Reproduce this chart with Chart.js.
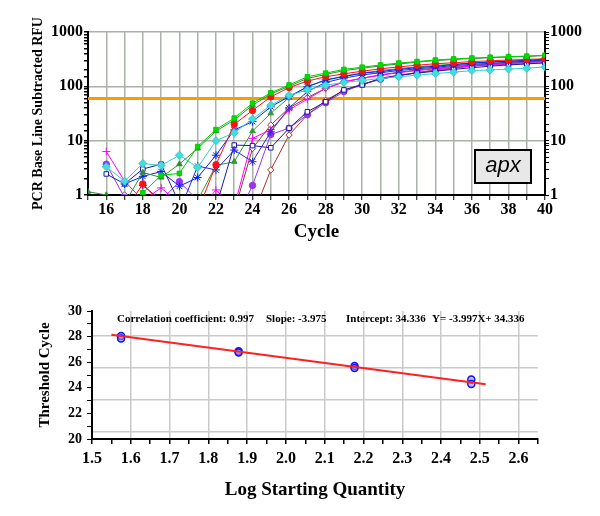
<!DOCTYPE html>
<html>
<head>
<meta charset="utf-8">
<script src="https://cdn.jsdelivr.net/npm/chart.js@4.4.1/dist/chart.umd.min.js"></script>
<style>
  html, body { margin: 0; padding: 0; background: #fff; }
  #topWrap { position: absolute; left: 0; top: 0; width: 600px; height: 250px; }
  #botWrap { position: absolute; left: 0; top: 270px; width: 600px; height: 246px; }
</style>
</head>
<body>
<div id="topWrap"><canvas id="pcr"></canvas></div>
<div id="botWrap"><canvas id="std"></canvas></div>
<script>
// ---- amplification plot data (RFU per cycle) ----
const cycles = [15,16,17,18,19,20,21,22,23,24,25,26,27,28,29,30,31,32,33,34,35,36,37,38,39,40]
const greenSq   = [null,null,0.6,1.1,2.3,2.5,7.8,16,26,49,76,106,150,175,205,225,247,268,286,305,320,332,342,352,360,375]
const greenTri  = [1.15,1.0,0.7,2.6,2.1,3.7,7.2,15,24,45,72,100,140,165,195,215,238,258,278,298,312,325,336,346,355,368]
const redDot    = [null,null,0.5,1.6,0.7,0.4,0.5,3.6,20,36,64,95,125,150,170,190,210,228,245,260,272,285,295,305,312,322]
const cyanDia   = [null,3.3,1.8,3.8,3.5,5.4,3.2,10,14,25,45,68,86,105,118,128,140,150,160,172,182,195,200,208,215,228]
const blueStar  = [null,null,1.6,2.2,2.7,1.45,2.1,5.4,15.7,22.4,42,65,98,131,151,175,187,205,220,235,250,268,280,290,300,318]
const blueStar2 = [null,null,null,1.5,0.8,0.5,3.4,2.9,6.7,4.1,14.6,40,80,118,142,162,178,195,210,225,240,255,265,278,290,305]
const navySq    = [null,2.44,1.6,3.0,3.7,0.7,0.4,0.6,8.3,8.1,7.4,17,34,52,86,106,141,160,175,190,205,220,235,248,258,272]
const magPlus   = [null,6.3,1.8,0.8,1.35,0.7,0.5,1.24,0.6,11,16,37,58,92,122,141,160,178,195,210,222,235,245,255,262,270]
const purpleDot = [null,3.7,0.9,0.6,0.8,1.76,0.8,0.3,0.3,1.5,13,17,30,50,80,108,135,158,178,195,212,240,255,265,275,285]
const brownDia  = [null,null,1.0,0.6,0.4,0.3,0.3,0.3,0.5,7.2,19.4,40,62,92,120,141,162,182,200,215,230,245,255,265,275,290]
const brownDia2 = [null,null,null,null,null,null,null,null,0.3,0.4,2.9,12.7,30,55,85,110,135,158,180,200,218,238,250,264,278,298]
const greenTri2 = [null,null,null,null,null,null,0.8,3.5,4.1,15,32,62,100,130,155,175,195,212,228,242,256,268,280,290,300,312]
const threshold = 60
const rfuTicks = [1, 10, 100, 1000]

// ---- standard curve data ----
const logQty    = [1.575, 1.575, 1.878, 1.878, 2.177, 2.177, 2.478, 2.478]
const ctValues  = [28.05, 27.85, 26.85, 26.75, 25.7, 25.55, 24.65, 24.3]
const fitX      = [1.55, 2.515]
const fitY      = [28.14, 24.28]
const qtyTicks  = [1.5,1.55,1.6,1.65,1.7,1.75,1.8,1.85,1.9,1.95,2.0,2.05,2.1,2.15,2.2,2.25,2.3,2.35,2.4,2.45,2.5,2.55,2.6,2.65]
const ctGrid    = [20.55, 23.05, 25.55, 28.05]
const fitText   = ['Correlation coefficient: 0.997', 'Slope: -3.975', 'Intercept: 34.336', 'Y= -3.997X+ 34.336']

Chart.defaults.font.family = 'Liberation Serif'
Chart.defaults.font.weight = 'bold'
Chart.defaults.color = '#000'

function series(label, vals, color, style, fill, radius) {
    return {
        label: label,
        data: cycles.map((c, i) => ({x: c, y: vals[i]})),
        borderColor: color,
        backgroundColor: fill || color,
        pointBorderColor: color,
        pointStyle: style,
        pointRadius: radius || 3.2,
        pointBorderWidth: 1,
        borderWidth: 1,
        tension: 0
    }
}

const pcrDatasets = [
    series('s1', greenSq, '#00cc00', 'rect', '#00dd00'),
    series('s2', greenTri, '#2f8f2f', 'triangle'),
    series('s3', redDot, '#ff1010', 'circle'),
    series('s4', cyanDia, '#33cccc', 'rectRot', '#44dddd', 4),
    series('s5', blueStar, '#0022ff', 'star', null, 4),
    series('s6', blueStar2, '#2a2acc', 'star', null, 4),
    series('s7', navySq, '#1a1a99', 'rect', '#ffffff'),
    series('s8', magPlus, '#ff00ff', 'cross', null, 4),
    series('s9', purpleDot, '#9933ee', 'circle'),
    series('s10', brownDia, '#993333', 'rectRot', '#ffffff'),
    series('s11', brownDia2, '#aa3322', 'rectRot', '#ffffff'),
    series('s12', greenTri2, '#339933', 'triangle'),
    {
        label: 'threshold',
        data: [{x: cycles[0], y: threshold}, {x: cycles[cycles.length - 1], y: threshold}],
        borderColor: '#ff9900',
        borderWidth: 3,
        pointRadius: 0
    }
]

const apxBox = {
    id: 'apxBox',
    afterDraw(chart) {
        const ctx = chart.ctx
        ctx.save()
        ctx.fillStyle = '#e8e8e8'
        ctx.fillRect(475, 150, 56, 33)
        ctx.strokeStyle = '#000'
        ctx.lineWidth = 2
        ctx.strokeRect(475, 150, 56, 33)
        ctx.fillStyle = '#000'
        ctx.font = 'italic 22px "Liberation Sans"'
        ctx.textAlign = 'center'
        ctx.textBaseline = 'middle'
        ctx.fillText('apx', 503, 166)
        ctx.restore()
    }
}

const decadeGrid = c => (c.tick && rfuTicks.includes(c.tick.value)) ? '#aab2aa' : 'rgba(0,0,0,0)'

new Chart(document.getElementById('pcr'), {
    type: 'line',
    data: { datasets: pcrDatasets },
    plugins: [apxBox],
    options: {
        responsive: true,
        maintainAspectRatio: false,
        animation: false,
        layout: { padding: { top: 32, left: 0, right: 0, bottom: 0 } },
        plugins: { legend: { display: false }, tooltip: { enabled: false } },
        scales: {
            x: {
                type: 'linear',
                min: 15, max: 40,
                afterFit: s => { s.height = 55 },
                ticks: {
                    stepSize: 1, autoSkip: false, maxRotation: 0, padding: 0,
                    font: { size: 16 },
                    callback: v => (v % 2 === 0 ? String(v) : '')
                },
                grid: { color: '#aab2aa', lineWidth: 1.5, tickColor: '#000', tickLength: 5, tickWidth: 1 },
                border: { color: '#000', width: 2 },
                title: { display: true, text: 'Cycle', font: { size: 19 }, padding: { top: 0, bottom: 7 } }
            },
            y: {
                type: 'logarithmic',
                min: 1, max: 1000,
                afterFit: s => { s.width = 88 },
                ticks: {
                    autoSkip: false, padding: 1, font: { size: 16 },
                    callback: v => (rfuTicks.includes(v) ? String(v) : '')
                },
                grid: { color: decadeGrid, lineWidth: 1.5, tickColor: '#000', tickLength: 4 },
                border: { color: '#000', width: 2 },
                title: { display: true, text: 'PCR Base Line Subtracted RFU', font: { size: 14 }, padding: { top: 30, bottom: 0 } }
            },
            y2: {
                type: 'logarithmic',
                position: 'right',
                min: 1, max: 1000,
                afterFit: s => { s.width = 55 },
                ticks: {
                    autoSkip: false, padding: 1, font: { size: 16 },
                    callback: v => (rfuTicks.includes(v) ? String(v) : '')
                },
                grid: { drawOnChartArea: false, tickColor: '#000', tickLength: 4 },
                border: { color: '#000', width: 2 }
            }
        }
    }
})

// ---- standard curve ----
const fitLabel = {
    id: 'fitLabel',
    afterDatasetsDraw(chart) {
        const ctx = chart.ctx
        const xs = [117, 266, 346, 432]
        ctx.save()
        ctx.fillStyle = '#000'
        ctx.font = 'bold 11px "Liberation Serif"'
        ctx.textBaseline = 'middle'
        fitText.forEach((t, i) => ctx.fillText(t, xs[i], 49))
        ctx.restore()
    }
}

new Chart(document.getElementById('std'), {
    type: 'scatter',
    data: {
        datasets: [
            {
                label: 'fit',
                type: 'line',
                data: fitX.map((x, i) => ({x: x, y: fitY[i]})),
                borderColor: '#ff2020',
                borderWidth: 2,
                pointRadius: 0
            },
            {
                label: 'standards',
                data: logQty.map((x, i) => ({x: x, y: ctValues[i]})),
                borderColor: '#1010ff',
                backgroundColor: 'rgba(140,140,255,0.6)',
                pointRadius: 3.5,
                pointBorderWidth: 1.5
            }
        ]
    },
    plugins: [fitLabel],
    options: {
        responsive: true,
        maintainAspectRatio: false,
        animation: false,
        layout: { padding: { top: 41, left: 0, right: 62, bottom: 0 } },
        plugins: { legend: { display: false }, tooltip: { enabled: false } },
        scales: {
            x: {
                type: 'linear',
                min: 1.5, max: 2.65,
                afterBuildTicks: s => { s.ticks = qtyTicks.map(v => ({value: v})) },
                afterFit: s => { s.height = 77 },
                ticks: {
                    autoSkip: false, maxRotation: 0, padding: 5, font: { size: 16 },
                    callback: v => (Math.abs(v * 10 - Math.round(v * 10)) < 1e-6 ? v.toFixed(1) : '')
                },
                grid: {
                    color: c => (c.tick && c.tick.value > 1.51 && Math.abs(c.tick.value * 10 - Math.round(c.tick.value * 10)) < 1e-6) ? '#cacaca' : 'rgba(0,0,0,0)',
                    lineWidth: 1.5, tickColor: '#000', tickLength: 5
                },
                border: { color: '#000', width: 2 },
                title: { display: true, text: 'Log Starting Quantity', font: { size: 19 }, padding: { top: 0, bottom: 15 } }
            },
            y: {
                min: 20, max: 30,
                afterFit: s => { s.width = 92 },
                ticks: {
                    stepSize: 1, autoSkip: false, padding: 5, font: { size: 14 },
                    callback: v => (v % 2 === 0 ? String(v) : '')
                },
                grid: { drawOnChartArea: false, tickColor: '#000', tickLength: 5 },
                border: { color: '#000', width: 2 },
                title: { display: true, text: 'Threshold Cycle', font: { size: 15 }, padding: { top: 36, bottom: 0 } }
            },
            yGrid: {
                position: 'right',
                min: 20, max: 30,
                afterBuildTicks: s => { s.ticks = ctGrid.map(v => ({value: v})) },
                afterFit: s => { s.width = 0 },
                ticks: { display: false },
                grid: { color: '#cacaca', lineWidth: 1.5, drawTicks: false },
                border: { display: false }
            }
        }
    }
})
</script>
</body>
</html>
